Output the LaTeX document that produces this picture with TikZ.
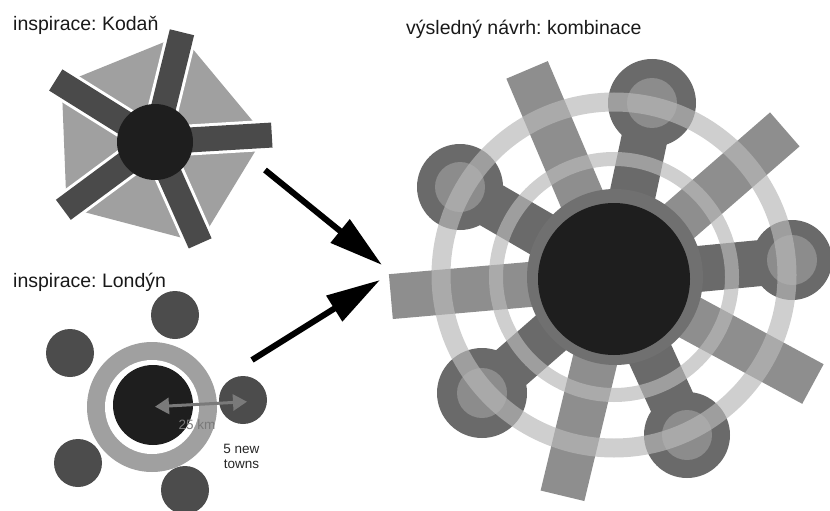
\documentclass[tikz,border=0pt]{standalone}
\usepackage{fontspec}
\setmainfont{Liberation Sans}
\usetikzlibrary{arrows.meta,calc}
\definecolor{kbg}{HTML}{A0A0A0}
\definecolor{kbar}{HTML}{4A4A4A}
\definecolor{kcore}{HTML}{1E1E1E}
\definecolor{lsat}{HTML}{4C4C4C}
\definecolor{cbar}{HTML}{8E8E8E}
\definecolor{cspoke}{HTML}{6A6A6A}
\definecolor{cinner}{HTML}{8C8C8C}
\definecolor{cmid}{HTML}{707070}
\definecolor{cring}{HTML}{B8B8B8}
\definecolor{kmarrow}{HTML}{7A7A7A}
\tikzset{
  title/.style={anchor=base west,inner sep=0pt,font=\fontsize{19.5}{22}\selectfont,text=black!90},
  small/.style={anchor=base,inner sep=0pt,font=\fontsize{13.5}{15}\selectfont},
  bigarrow/.style={line width=6pt,-{Triangle[length=54pt,width=29pt]}},
  ringst/.style={draw=cring,opacity=0.67},
}
\frenchspacing
\begin{document}
\begin{tikzpicture}[x=1pt,y=1pt]
\useasboundingbox (0,0) rectangle (830,-511);
\fill[white] (0,0) rectangle (830,-511);

% ---------- Copenhagen ----------
\coordinate (K) at (155,-142);
\fill[kbg] ($(K)+(76.2:110)$) -- ($(K)+(3.4:110)$) -- ($(K)+(-66:110)$)
  -- ($(K)+(216.5:110)$) -- ($(K)+(148:110)$) -- cycle;
\foreach \a/\l in {76.2/113,3.4/117,-66/111,216.5/114,148/117}{
  \draw[white,line width=31pt] (K) -- ++(\a:\l+1);
  \draw[kbar,line width=25pt] (K) -- ++(\a:\l);
}
\fill[kcore] (K) circle (38);

% ---------- London ----------
\coordinate (L) at (152,-407);
\fill[kbg] (L) circle (65);
\fill[white] (L) circle (47);
\fill[kcore] (153,-405) circle (40);
\foreach \p in {(175,-315),(70,-353),(243,-400),(78,-463),(185,-490)}{
  \fill[lsat] \p circle (24);
}
\node[small,text=kmarrow] (km) at (197,-429) {25 km};
\coordinate (da) at (155,-406.7);
\coordinate (db) at (247,-401.7);
\draw[kmarrow,line width=3pt,{Triangle[length=14pt,width=16pt]}-{Triangle[length=14pt,width=16pt]}] (da) -- (db);
\node[small,text=black!85] (nw1) at (241.5,-453) {5 new};
\node[small,text=black!85] (nw2) at (241.5,-468) {towns};

% ---------- combination ----------
\coordinate (C) at (615,-277);
\foreach \a in {113,41,185,-28.4,-103.5}{
  \draw[cbar,line width=45pt] (C) -- ++(\a:225);
}
\foreach \x/\y/\r in {652/-103/44,460/-187/43,792/-260/40,482/-393/45,687/-435/43}{
  \draw[cspoke,line width=46pt] (C) -- (\x,\y);
  \fill[cspoke] (\x,\y) circle (\r);
  \fill[cinner] (\x,\y) circle (25);
}
\draw[ringst,line width=19pt] (614,-275) circle (173);
\draw[ringst,line width=14pt] (614,-277) circle (118);
\fill[cmid] (C) circle (88);
\fill[kcore] (614,-279) circle (76);

% ---------- titles ----------
\node[title] (tk) at (13,-31) {inspirace: Kodaň};
\node[title] (tl) at (13,-287) {inspirace: Londýn};
\node[title] (tc) at (406,-35) {výsledný návrh: kombinace};

% ---------- arrows ----------
\coordinate (a1s) at (265,-170);
\coordinate (a1e) at (382,-265);
\coordinate (a2s) at (252,-360);
\coordinate (a2e) at (380,-280);
\draw[bigarrow] (a1s) -- (a1e);
\draw[bigarrow] (a2s) -- (a2e);
\end{tikzpicture}
\end{document}
